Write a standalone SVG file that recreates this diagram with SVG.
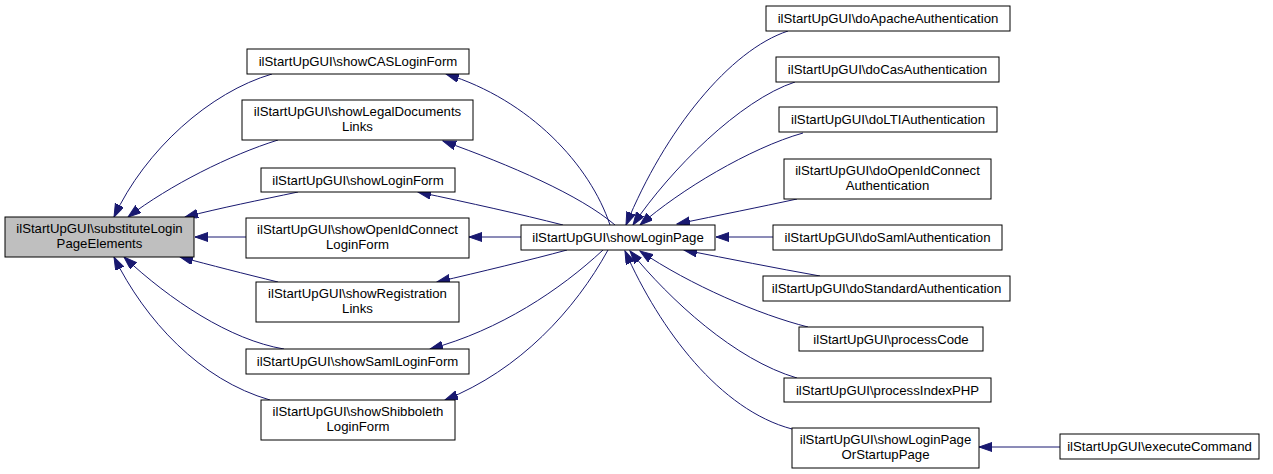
<svg xmlns="http://www.w3.org/2000/svg" width="1273" height="474" viewBox="0 0 1273 474">
<style>
.n rect{fill:#ffffff;stroke:#000000;stroke-width:1}
.n.h rect{fill:#bfbfbf}
.n text{font-family:"Liberation Sans",Arial,sans-serif;font-size:13.2px;fill:#000000;text-anchor:middle}
.e path{fill:none;stroke:#191970;stroke-width:1;marker-end:url(#ah)}
</style>
<defs>
<marker id="ah" markerUnits="userSpaceOnUse" markerWidth="14" markerHeight="10" refX="13" refY="4.5" orient="auto">
<path d="M0,0 L13,4.5 L0,9 z" fill="#191970" stroke="#191970" stroke-width="1"/>
</marker>
</defs>
<rect width="1273" height="474" fill="#ffffff"/>
<g id="edges" class="e">
<path d="M272,74 C210,92 145,150 114,217"/>
<path d="M278,140 C230,155 170,185 128,217"/>
<path d="M298,192 C260,200 220,208 185,217"/>
<path d="M246,237 L195,237"/>
<path d="M278,282 C245,274 210,265 180,257"/>
<path d="M284,349 C230,340 170,300 124,257"/>
<path d="M270,400 C200,380 145,320 114,257"/>
<path d="M610,225 C590,165 530,100 446,74"/>
<path d="M615,225 C580,195 510,165 443,141"/>
<path d="M563,225 C520,214 470,203 418,192"/>
<path d="M521,237 L469,237"/>
<path d="M567,250 C530,260 480,272 437,282"/>
<path d="M603,250 C560,290 500,330 430,349"/>
<path d="M608,250 C575,310 520,370 445,400"/>
<path d="M788,31 C730,50 665,130 626,225"/>
<path d="M795,82 C740,100 670,170 633,225"/>
<path d="M803,133 C750,148 680,190 640,225"/>
<path d="M797,199 C760,207 720,215 677,224"/>
<path d="M773,237 L716,237"/>
<path d="M820,276 C775,268 730,259 684,250"/>
<path d="M808,327 C760,315 690,285 640,251"/>
<path d="M797,378 C735,360 670,300 630,251"/>
<path d="M792,429 C720,410 660,330 625,251"/>
<path d="M1060,447 L979,447"/>
</g>
<g id="n_substitute" class="n h"><rect x="5" y="217" width="189" height="40"/><text x="99.5" y="233">ilStartUpGUI\substituteLogin</text><text x="99.5" y="248">PageElements</text></g>
<g id="n_showCAS" class="n"><rect x="247" y="49" width="222" height="25"/><text x="358" y="66">ilStartUpGUI\showCASLoginForm</text></g>
<g id="n_showLegal" class="n"><rect x="242" y="100" width="231" height="40"/><text x="357.5" y="116">ilStartUpGUI\showLegalDocuments</text><text x="357.5" y="131">Links</text></g>
<g id="n_showLoginForm" class="n"><rect x="261" y="168" width="194" height="24"/><text x="358" y="185">ilStartUpGUI\showLoginForm</text></g>
<g id="n_showOpenId" class="n"><rect x="246" y="218" width="223" height="40"/><text x="357.5" y="234">ilStartUpGUI\showOpenIdConnect</text><text x="357.5" y="249">LoginForm</text></g>
<g id="n_showRegistration" class="n"><rect x="256" y="282" width="203" height="40"/><text x="357.5" y="298">ilStartUpGUI\showRegistration</text><text x="357.5" y="313">Links</text></g>
<g id="n_showSaml" class="n"><rect x="246" y="349" width="223" height="25"/><text x="357.5" y="366">ilStartUpGUI\showSamlLoginForm</text></g>
<g id="n_showShibboleth" class="n"><rect x="261" y="400" width="194" height="40"/><text x="358" y="416">ilStartUpGUI\showShibboleth</text><text x="358" y="431">LoginForm</text></g>
<g id="n_showLoginPage" class="n"><rect x="521" y="225" width="194" height="25"/><text x="618" y="242">ilStartUpGUI\showLoginPage</text></g>
<g id="n_doApache" class="n"><rect x="766" y="6" width="244" height="25"/><text x="888" y="23">ilStartUpGUI\doApacheAuthentication</text></g>
<g id="n_doCas" class="n"><rect x="776" y="57" width="223" height="25"/><text x="887.5" y="74">ilStartUpGUI\doCasAuthentication</text></g>
<g id="n_doLTI" class="n"><rect x="779" y="107" width="218" height="25"/><text x="888" y="124">ilStartUpGUI\doLTIAuthentication</text></g>
<g id="n_doOpenId" class="n"><rect x="784" y="159" width="207" height="40"/><text x="887.5" y="175">ilStartUpGUI\doOpenIdConnect</text><text x="887.5" y="190">Authentication</text></g>
<g id="n_doSaml" class="n"><rect x="773" y="225" width="229" height="25"/><text x="887.5" y="242">ilStartUpGUI\doSamlAuthentication</text></g>
<g id="n_doStandard" class="n"><rect x="763" y="276" width="247" height="25"/><text x="886.5" y="293">ilStartUpGUI\doStandardAuthentication</text></g>
<g id="n_processCode" class="n"><rect x="799" y="327" width="184" height="24"/><text x="891" y="344">ilStartUpGUI\processCode</text></g>
<g id="n_processIndexPHP" class="n"><rect x="784" y="378" width="207" height="24"/><text x="887.5" y="395">ilStartUpGUI\processIndexPHP</text></g>
<g id="n_showLoginPageOrStartup" class="n"><rect x="792" y="428" width="187" height="40"/><text x="885.5" y="444">ilStartUpGUI\showLoginPage</text><text x="885.5" y="459">OrStartupPage</text></g>
<g id="n_executeCommand" class="n"><rect x="1060" y="434" width="199" height="25"/><text x="1159.5" y="451">ilStartUpGUI\executeCommand</text></g>
</svg>
